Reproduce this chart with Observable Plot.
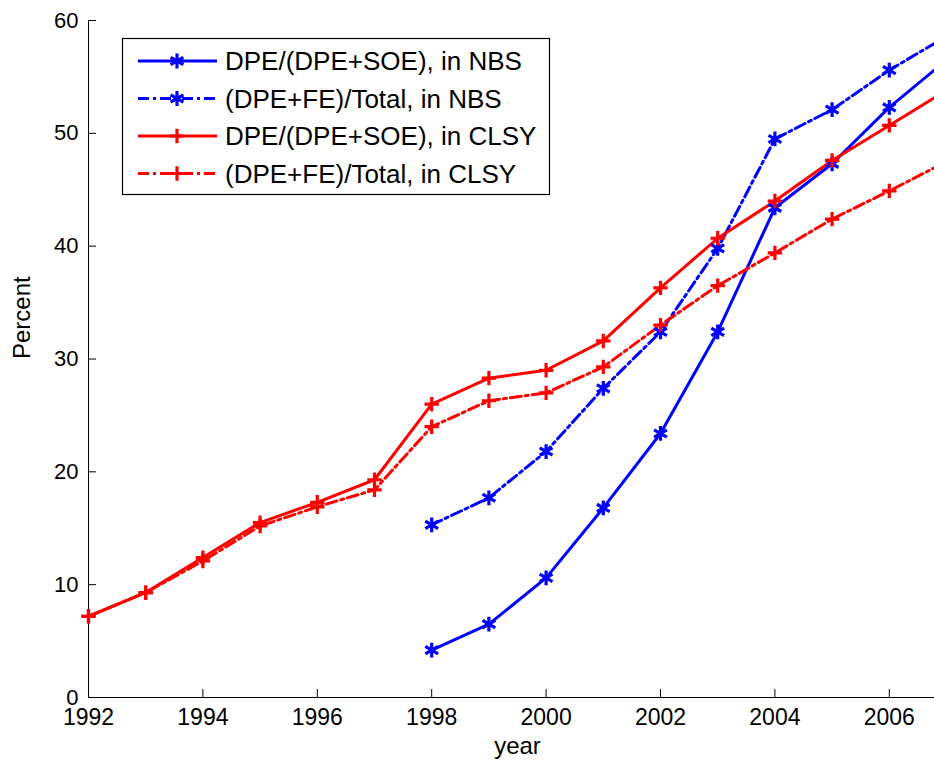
<!DOCTYPE html>
<html>
<head>
<meta charset="utf-8">
<script src="https://cdn.jsdelivr.net/npm/d3@7"></script>
<script src="https://cdn.jsdelivr.net/npm/@observablehq/plot@0.6"></script>
<style>
  html, body { margin: 0; padding: 0; background: #fff; overflow: hidden; width: 934px; height: 767px; }
  #wrap { position: relative; width: 934px; height: 767px; overflow: hidden; }
  #wrap > svg:first-child { max-width: none !important; }
</style>
</head>
<body>
<div id="wrap"></div>
<script>
// ---- data ----
const yearsNBS = [1998, 1999, 2000, 2001, 2002, 2003, 2004, 2005, 2006, 2007];
const nbsDpeSoe = [4.2, 6.5, 10.6, 16.8, 23.4, 32.4, 43.4, 47.3, 52.3, 56.5];
const nbsTotal  = [15.3, 17.7, 21.8, 27.4, 32.4, 39.8, 49.5, 52.1, 55.6, 58.6];

const yearsCLSY = [1992, 1993, 1994, 1995, 1996, 1997, 1998, 1999, 2000, 2001, 2002, 2003, 2004, 2005, 2006, 2007];
const clsyDpeSoe = [7.2, 9.3, 12.4, 15.5, 17.3, 19.3, 26.0, 28.3, 29.0, 31.6, 36.3, 40.7, 44.0, 47.6, 50.7, 53.8];
const clsyTotal  = [7.2, 9.3, 12.1, 15.2, 16.9, 18.4, 24.0, 26.3, 27.0, 29.3, 33.0, 36.5, 39.4, 42.4, 44.9, 47.5];

const seriesNames = [
  "DPE/(DPE+SOE), in NBS",
  "(DPE+FE)/Total, in NBS",
  "DPE/(DPE+SOE), in CLSY",
  "(DPE+FE)/Total, in CLSY"
];
const xTicks = [1992, 1994, 1996, 1998, 2000, 2002, 2004, 2006];
const yTicks = [0, 10, 20, 30, 40, 50, 60];

// ---- styles ----
const BLUE = "#0000ff", RED = "#ff0000";
const DASHDOT = "11,4,3,4";
const styles = [
  {color: BLUE, dash: null, symbol: "asterisk", r: 7},
  {color: BLUE, dash: DASHDOT, symbol: "asterisk", r: 7},
  {color: RED, dash: null, symbol: "plus", r: 4.7},
  {color: RED, dash: DASHDOT, symbol: "plus", r: 4.7}
];

const series = [
  yearsNBS.map((x, i) => ({x, y: nbsDpeSoe[i]})),
  yearsNBS.map((x, i) => ({x, y: nbsTotal[i]})),
  yearsCLSY.map((x, i) => ({x, y: clsyDpeSoe[i]})),
  yearsCLSY.map((x, i) => ({x, y: clsyTotal[i]}))
];

const FONT = "'Liberation Sans', Arial, Helvetica, sans-serif";

const marks = [];
marks.push(Plot.ruleX([1992], {stroke: "#000", strokeWidth: 1}));
marks.push(Plot.ruleY([0], {stroke: "#000", strokeWidth: 1}));
marks.push(Plot.axisX({ticks: xTicks, tickFormat: d => String(d), tickSize: -8, tickPadding: 19, fontSize: 23, label: null, stroke: "#000"}));
marks.push(Plot.axisY({ticks: yTicks, tickSize: -8, tickPadding: 18, fontSize: 22, label: null, stroke: "#000"}));

series.forEach((data, i) => {
  const s = styles[i];
  marks.push(Plot.line(data, {x: "x", y: "y", stroke: s.color, strokeWidth: 3, strokeDasharray: s.dash, strokeLinejoin: "round"}));
});
series.forEach((data, i) => {
  const s = styles[i];
  marks.push(Plot.dot(data, {x: "x", y: "y", symbol: s.symbol, r: s.r, stroke: s.color, strokeWidth: 3.2, fill: "none"}));
});

marks.push(Plot.text(["Percent"], {frameAnchor: "left", dx: -66, rotate: -90, fontSize: 24, text: d => d, fill: "#000"}));
marks.push(Plot.text(["year"], {frameAnchor: "bottom", dy: 56, fontSize: 24, text: d => d, fill: "#000"}));

const chart = Plot.plot({
  width: 960,
  height: 767,
  marginLeft: 88,
  marginRight: 14,
  marginTop: 20,
  marginBottom: 70,
  style: {fontFamily: FONT, background: "#fff", color: "#000", maxWidth: "none"},
  x: {domain: [1992, 2007], type: "linear"},
  y: {domain: [0, 60]},
  marks
});
chart.style.maxWidth = "none";
chart.setAttribute("width", 960);
document.getElementById("wrap").appendChild(chart);

// ---- legend ----
const leg = d3.select("#wrap").append("svg")
  .attr("width", 934).attr("height", 767)
  .style("position", "absolute").style("left", "0px").style("top", "0px")
  .style("font-family", FONT);
leg.append("rect").attr("x", 122.5).attr("y", 38.5).attr("width", 427).attr("height", 156)
  .attr("fill", "#fff").attr("stroke", "#000").attr("stroke-width", 1.2);
const rowY = [61, 98.5, 136, 173.5];
seriesNames.forEach((name, i) => {
  const s = styles[i];
  const y = rowY[i];
  leg.append("line").attr("x1", 138).attr("x2", 217).attr("y1", y).attr("y2", y)
    .attr("stroke", s.color).attr("stroke-width", 3)
    .attr("stroke-dasharray", s.dash);
  const sym = s.symbol === "plus" ? d3.symbolPlus : d3.symbolAsterisk;
  leg.append("path").attr("d", d3.symbol(sym, Math.PI * s.r * s.r)())
    .attr("transform", `translate(177,${y})`)
    .attr("fill", "none").attr("stroke", s.color).attr("stroke-width", 3.2);
  leg.append("text").attr("x", 225).attr("y", y + 9).attr("font-size", 26).attr("fill", "#000").text(name);
});
</script>
</body>
</html>
